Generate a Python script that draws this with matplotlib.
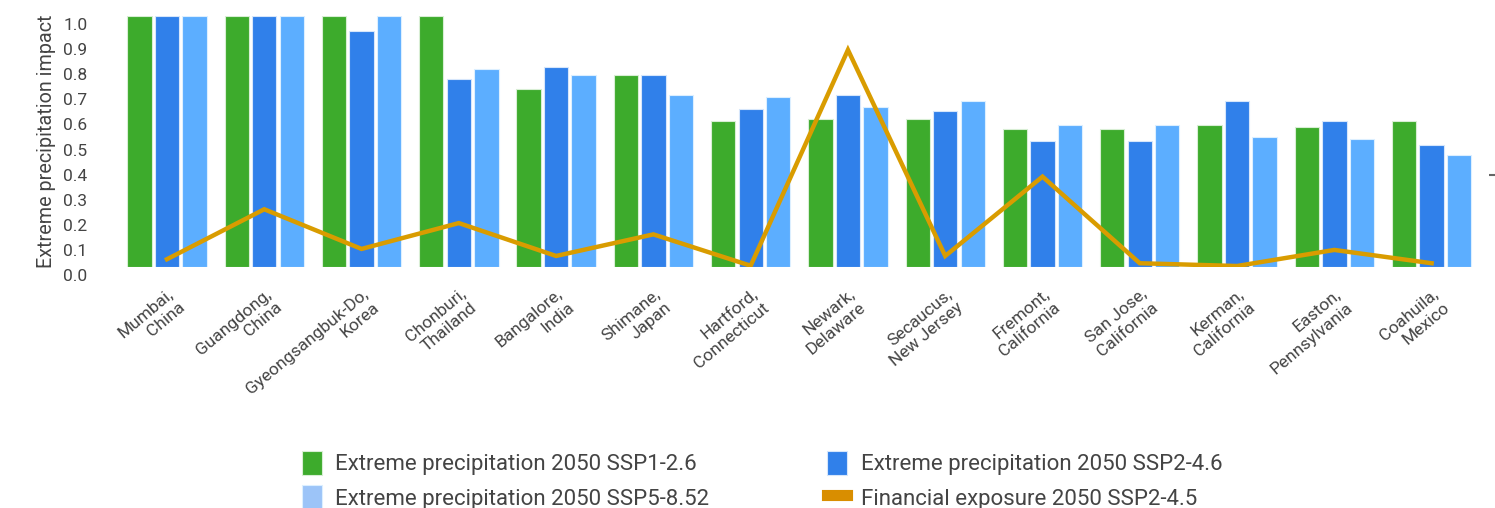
import numpy as np
import matplotlib.pyplot as plt
from matplotlib.transforms import ScaledTranslation

plt.rcParams['font.family'] = ['Roboto', 'DejaVu Sans']

locations = ['Mumbai,\nChina', 'Guangdong,\nChina', 'Gyeongsangbuk-Do,\nKorea',
             'Chonburi,\nThailand', 'Bangalore,\nIndia', 'Shimane,\nJapan',
             'Hartford,\nConnecticut', 'Newark,\nDelaware', 'Secaucus,\nNew Jersey',
             'Fremont,\nCalifornia', 'San Jose,\nCalifornia', 'Kerman,\nCalifornia',
             'Easton,\nPennsylvania', 'Coahuila,\nMexico']

ssp126 = [1.0, 1.0, 1.0, 1.0, 0.71, 0.766, 0.583, 0.591, 0.591, 0.551, 0.551, 0.567, 0.559, 0.583]
ssp246 = [1.0, 1.0, 0.941, 0.75, 0.798, 0.766, 0.631, 0.686, 0.623, 0.503, 0.503, 0.663, 0.583, 0.487]
ssp585 = [1.0, 1.0, 1.0, 0.79, 0.766, 0.686, 0.678, 0.639, 0.663, 0.567, 0.567, 0.519, 0.511, 0.447]
exposure = [0.031, 0.23, 0.072, 0.175, 0.044, 0.13, 0.005, 0.865, 0.044, 0.36, 0.015, 0.004, 0.068, 0.015]

green = '#3dab2c'
blue = '#3080ea'
light = '#5caeff'
gold = '#d99c00'
txt = '#444444'

fig = plt.figure(figsize=(14.95, 5.08), dpi=100)
ax = fig.add_axes([0.0733, 0.4744, 0.9227, 0.4941])

x = np.arange(len(locations))
w = 0.25
step = 0.283
b1 = ax.bar(x - step, ssp126, w, color=green, edgecolor='#d8eed4', linewidth=0.8)
b2 = ax.bar(x, ssp246, w, color=blue, edgecolor='#d6e6fb', linewidth=0.8)
b3 = ax.bar(x + step, ssp585, w, color=light, edgecolor='#dcefff', linewidth=0.8)

ax.set_xlim(-0.59, 13.59)
ax.set_ylim(0, 1.0)
ax.set_yticks(np.arange(0, 1.01, 0.1))
ax.set_yticklabels(['%.1f' % v for v in np.arange(0, 1.01, 0.1)])
ax.tick_params(axis='y', length=0, labelsize=12.5, colors=txt, pad=16)
for lab in ax.get_yticklabels():
    lab.set_transform(lab.get_transform() + ScaledTranslation(0, -0.08, fig.dpi_scale_trans))
ax.set_ylabel('Extreme precipitation impact', fontsize=14.2, color=txt, labelpad=5)

ax.set_xticks(x)
ax.set_xticklabels(locations, rotation=40, ha='right', rotation_mode='anchor',
                   multialignment='right', fontsize=12.5, color=txt)
ax.tick_params(axis='x', length=0, pad=14)
for s in ax.spines.values():
    s.set_visible(False)

# exposure line on its own axis
ax2 = ax.twinx()
ax2.set_ylim(0, 1.0)
line, = ax2.plot(x, exposure, color=gold, lw=3.2, solid_joinstyle='miter')
ax2.set_yticks([0.367])
ax2.set_yticklabels([''])
ax2.tick_params(axis='y', length=5, width=1.5, colors='#666666')
for s in ax2.spines.values():
    s.set_visible(False)

leg_line = plt.Line2D([], [], color='#d98e00', lw=8)
leg = fig.legend([b1, b3, b2, leg_line],
                 ['Extreme precipitation 2050 SSP1-2.6', 'Extreme precipitation 2050 SSP5-8.52',
                  'Extreme precipitation 2050 SSP2-4.6', 'Financial exposure 2050 SSP2-4.5'],
                 ncol=2, loc='upper left', bbox_to_anchor=(0.1886, 0.152), frameon=False,
                 fontsize=16, labelcolor=txt, handlelength=0.9, handleheight=1.3,
                 handletextpad=0.6, columnspacing=5.3, labelspacing=0.45)
leg.legend_handles[1].set_facecolor('#9cc4f8')

fig.savefig('out.png', dpi=100)
